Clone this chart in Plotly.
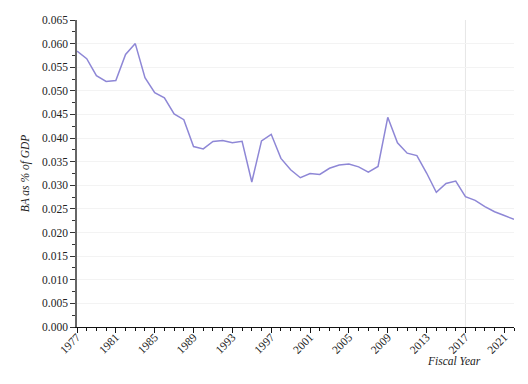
import plotly.graph_objects as go

years = list(range(1977, 2023))
ba_pct_gdp = [0.0584, 0.0568, 0.0532, 0.0520, 0.0522, 0.0577, 0.0600, 0.0528, 0.0496, 0.0485,
              0.0451, 0.0439, 0.0382, 0.0377, 0.0393, 0.0395, 0.0390, 0.0393, 0.0307, 0.0394,
              0.0408, 0.0357, 0.0333, 0.0316, 0.0325, 0.0323, 0.0336, 0.0343, 0.0345, 0.0339,
              0.0328, 0.0340, 0.0444, 0.0390, 0.0368, 0.0363, 0.0326, 0.0285, 0.0304, 0.0309,
              0.0276, 0.0268, 0.0255, 0.0244, 0.0236, 0.0228]
ref_year = 2017

FONT = "Liberation Serif"
TICKFONT = dict(family=FONT, size=11.5, color="#222")

fig = go.Figure()
fig.add_trace(go.Scatter(x=years, y=ba_pct_gdp, mode="lines",
                         line=dict(color="#8e87d6", width=1.5), hoverinfo="x+y"))

fig.add_shape(type="line", xref="x", yref="paper", x0=ref_year, x1=ref_year, y0=0, y1=1,
              line=dict(color="#e6e6e6", width=1), layer="below")

fig.update_layout(
    width=528, height=384,
    margin=dict(l=69, r=22, t=6, b=65),
    paper_bgcolor="white", plot_bgcolor="white",
    showlegend=False,
    font=dict(family=FONT, size=11.5, color="#222"),
    xaxis=dict(range=[1977, 2022], tick0=1977, dtick=4, tickangle=-45,
               tickfont=TICKFONT, ticklabelstandoff=-7,
               showgrid=False, zeroline=False,
               showline=True, linecolor="#111", linewidth=1.2,
               ticks="outside", ticklen=5, tickcolor="#111",
               minor=dict(ticks="outside", dtick=1, ticklen=3, tickcolor="#111")),
    yaxis=dict(range=[0, 0.065], tick0=0, dtick=0.005, tickformat=".3f",
               tickfont=TICKFONT,
               showgrid=True, gridcolor="#f3f3f3", gridwidth=1, zeroline=False,
               showline=True, linecolor="#666", linewidth=1.5,
               ticks="outside", ticklen=5, tickcolor="#333",
               minor=dict(ticks="outside", dtick=0.0025, ticklen=3, tickcolor="#333"),
               title=dict(text="<i>BA as % of GDP</i>", font=dict(family=FONT, size=11.5), standoff=10)),
)

fig.add_annotation(text="<i>Fiscal Year</i>", xref="paper", yref="paper",
                   x=0.863, y=-0.112, xanchor="center", yanchor="middle",
                   showarrow=False, font=dict(size=11.5, family=FONT))

fig.write_html("out.html")
